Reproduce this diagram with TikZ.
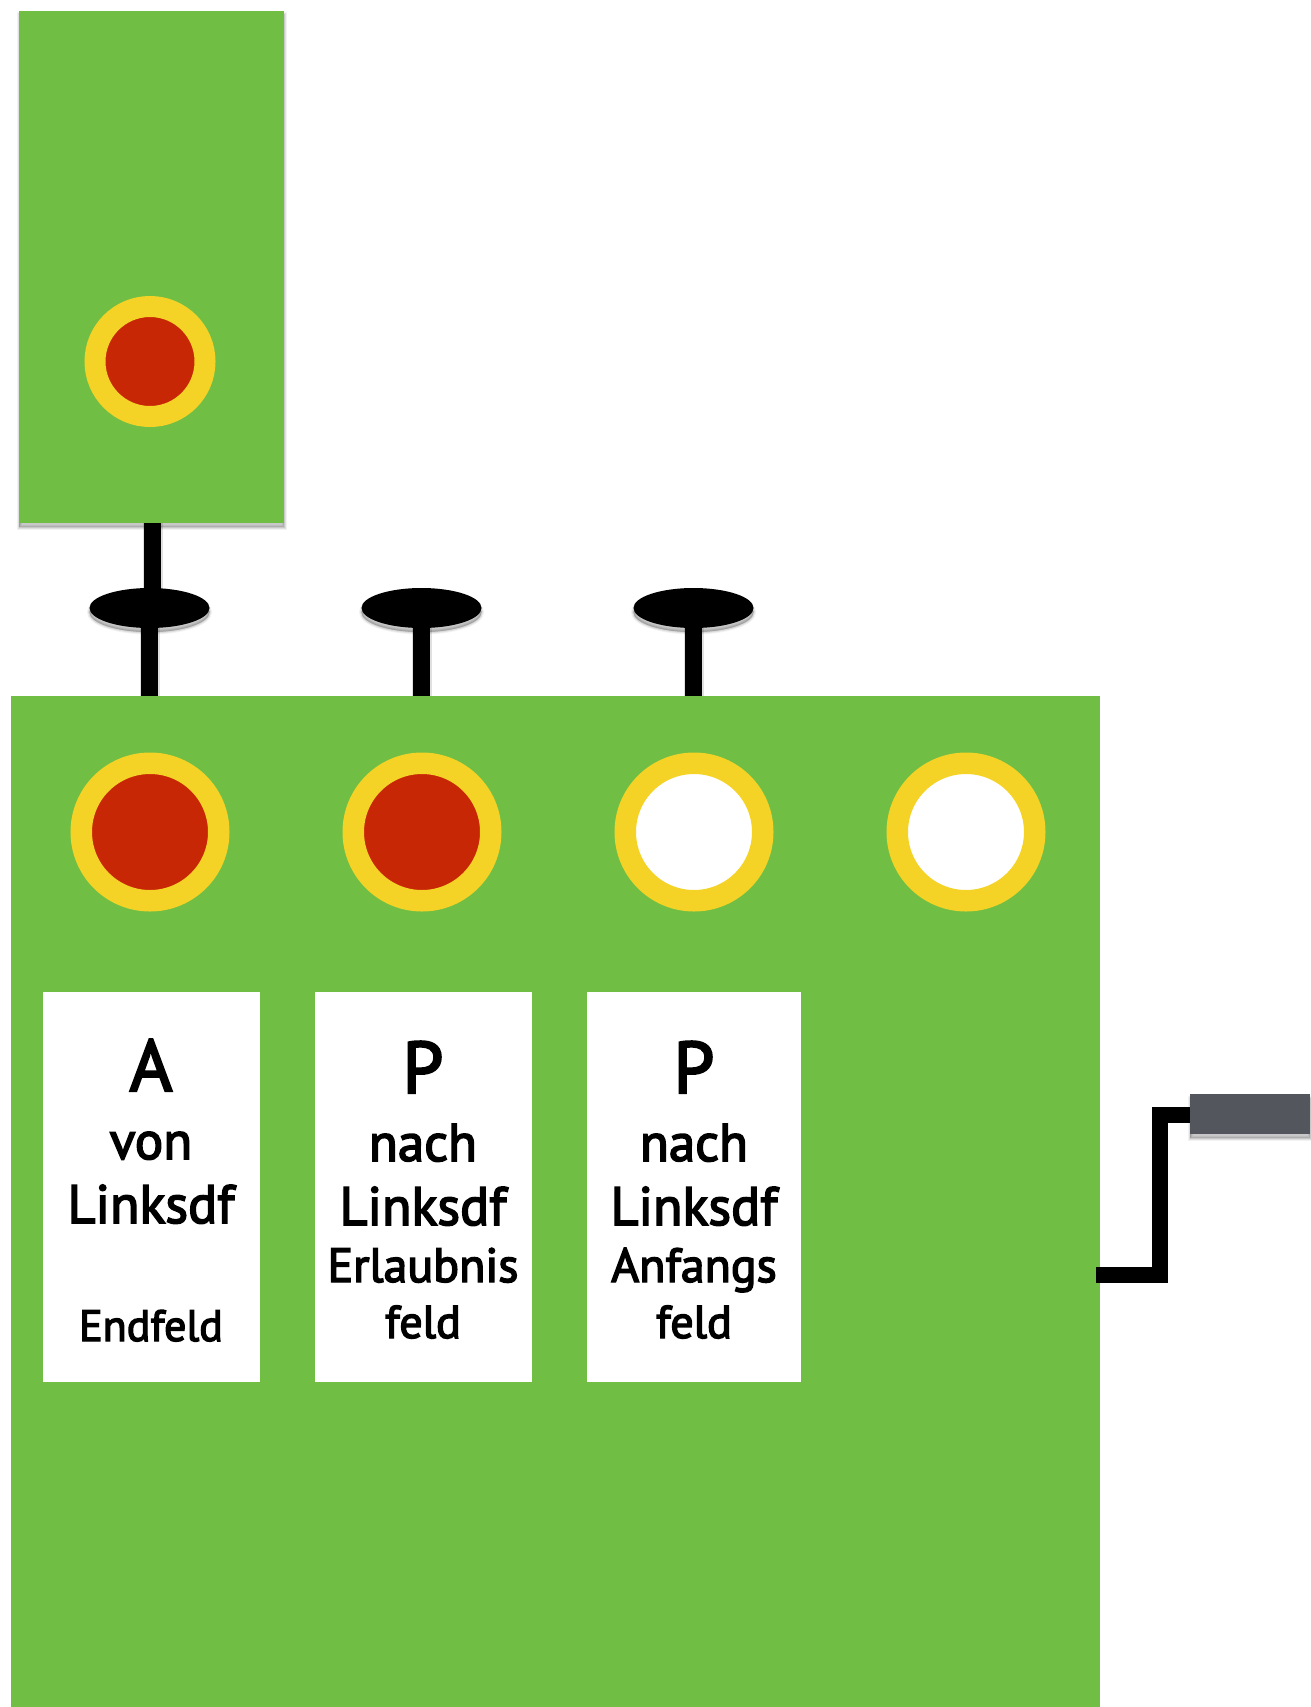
\documentclass[tikz,border=0pt]{standalone}
\usepackage{fontspec}
\setmainfont[FakeBold=3]{PT Sans}
\usetikzlibrary{shadows,shapes.geometric}
\definecolor{panelgreen}{HTML}{70BF44}
\definecolor{ringyellow}{HTML}{F5D226}
\definecolor{lampred}{HTML}{C82706}
\definecolor{handlegrey}{HTML}{53565C}
\begin{document}
\begin{tikzpicture}[x=1pt,y=-1pt]
\tikzstyle{every node}+=[inner sep=0pt,outer sep=0pt]
\tikzstyle{softshadow}=[general shadow={shadow xshift=0pt,shadow yshift=-4pt,draw=black,fill=black,line width=5pt,opacity=0.05},
  general shadow={shadow xshift=0pt,shadow yshift=-4pt,draw=black,fill=black,line width=3pt,opacity=0.08},
  general shadow={shadow xshift=0pt,shadow yshift=-4pt,draw=black,fill=black,line width=1pt,opacity=0.10}]
\tikzstyle{stem}=[black,line width=17.5pt,preaction={draw=black,line width=20pt,opacity=0.12}]
\tikzstyle{crank}=[black,line width=16pt,line join=miter]
\tikzstyle{plate}=[rectangle,fill=panelgreen]
\tikzstyle{knob}=[ellipse,fill=black,minimum width=120pt,minimum height=40pt,softshadow]
\tikzstyle{biglamp}=[circle,draw=ringyellow,line width=21.5pt,minimum size=137.5pt]
\tikzstyle{smalllamp}=[circle,draw=ringyellow,line width=21pt,minimum size=110pt]
\tikzstyle{label}=[rectangle,fill=white,minimum height=390pt]
\tikzstyle{big}=[anchor=base,font=\fontsize{73pt}{73pt}\selectfont]
\tikzstyle{mid}=[anchor=base,font=\fontsize{53pt}{53pt}\selectfont]
\tikzstyle{place}=[anchor=base,font=\fontsize{54pt}{54pt}\selectfont]
\tikzstyle{low}=[anchor=base,font=\fontsize{46pt}{46pt}\selectfont]
\tikzstyle{lowwide}=[anchor=base,font=\fontsize{48pt}{48pt}\selectfont]
\tikzstyle{lownarrow}=[anchor=base,font=\fontsize{44pt}{44pt}\selectfont]
\useasboundingbox (0,0) rectangle (1310,1707);
\fill [white] (0,0) rectangle (1310,1707);
\coordinate (blocktop) at (152.5,600);
\coordinate (crankfoot) at (1096,1275);
\coordinate (crankbend) at (1160,1275);
\coordinate (crankarm) at (1190,1115);
\node [knob] (knobA) at (149.5,608) {};
\node [knob] (knobB) at (421.5,608) {};
\node [knob] (knobC) at (693.5,608) {};
\node [plate,minimum width=265pt,minimum height=512pt,softshadow] (block) at (151.5,267) {};
\node [plate,minimum width=1089pt,minimum height=1011pt] (panel) at (555.5,1201.5) {};
\node [rectangle,fill=handlegrey,minimum width=120pt,minimum height=40pt,softshadow] (handle) at (1250,1114) {};
\draw [stem] (block.south -| blocktop) -- (blocktop);
\draw [stem] (knobA.south) -- (knobA.south |- panel.north);
\draw [stem] (knobB.south) -- (knobB.south |- panel.north);
\draw [stem] (knobC.south) -- (knobC.south |- panel.north);
\draw [crank] (crankfoot) -- (crankbend) |- (crankarm);
\node [smalllamp,fill=lampred] (lampTop) at (150,361.5) {};
\node [biglamp,fill=lampred] (lampA) at (150,832) {};
\node [biglamp,fill=lampred] (lampB) at (422,832) {};
\node [biglamp,fill=white] (lampC) at (694,832) {};
\node [biglamp,fill=white] (lampD) at (966,832) {};
\node [label,minimum width=217pt] (labelA) at (151.5,1187) {};
\node [label,minimum width=217pt] (labelB) at (423.5,1187) {};
\node [label,minimum width=214pt] (labelC) at (694,1187) {};
\node [big] (textA) at (151,1091) {A};
\node [mid] (vonA) at (151,1159) {von};
\node [place] (ortA) at (151,1223) {Linksdf};
\node [lownarrow] (artA) at (151,1341) {Endfeld};
\node [big] (textB) at (423,1093) {P};
\node [mid] (nachB) at (423,1161) {nach};
\node [place] (ortB) at (423,1225) {Linksdf};
\node [lowwide] (artB) at (423,1282) {Erlaubnis};
\node [low] (feldB) at (423,1338) {feld};
\node [big] (textC) at (694,1093) {P};
\node [mid] (nachC) at (694,1161) {nach};
\node [place] (ortC) at (694,1225) {Linksdf};
\node [lowwide] (artC) at (694,1282) {Anfangs};
\node [low] (feldC) at (694,1338) {feld};
\end{tikzpicture}
\end{document}
